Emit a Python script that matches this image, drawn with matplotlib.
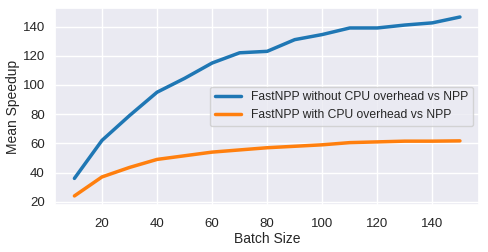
import matplotlib
matplotlib.use('Agg')
import matplotlib.pyplot as plt
import seaborn as sns

batch_sizes = [10, 20, 30, 40, 50, 60, 70, 80, 90, 100, 110, 120, 130, 140, 150]
speedup_no_cpu = [36, 62, 79, 95, 104.5, 115, 122, 123, 131, 134.5, 139, 139, 141, 142.5, 146.5]
speedup_cpu = [24, 37, 43.5, 49, 51.5, 54, 55.5, 57, 58, 59, 60.5, 61, 61.5, 61.5, 61.7]
labels = ['FastNPP without CPU overhead vs NPP', 'FastNPP with CPU overhead vs NPP']

sns.set_theme(style='darkgrid')
plt.rcParams['font.family'] = ['Liberation Sans', 'DejaVu Sans']

fig, ax = plt.subplots(figsize=(4.88, 2.52), dpi=100)
ax.plot(batch_sizes, speedup_no_cpu, lw=2.5, color='#1f77b4', label=labels[0])
ax.plot(batch_sizes, speedup_cpu, lw=2.5, color='#ff7f0e', label=labels[1])
ax.set_xlabel('Batch Size', fontsize=10, labelpad=1.5)
ax.tick_params(labelsize=9.5)
ax.tick_params(axis='y', length=0, pad=7.5)
ax.set_ylabel('Mean Speedup', fontsize=10, labelpad=1.5)
ax.legend(loc='center right', fontsize=8.7, bbox_to_anchor=(1.0, 0.5), handlelength=2.2)
fig.subplots_adjust(left=0.113, right=0.982, top=0.968, bottom=0.187)
fig.savefig('out.png')
